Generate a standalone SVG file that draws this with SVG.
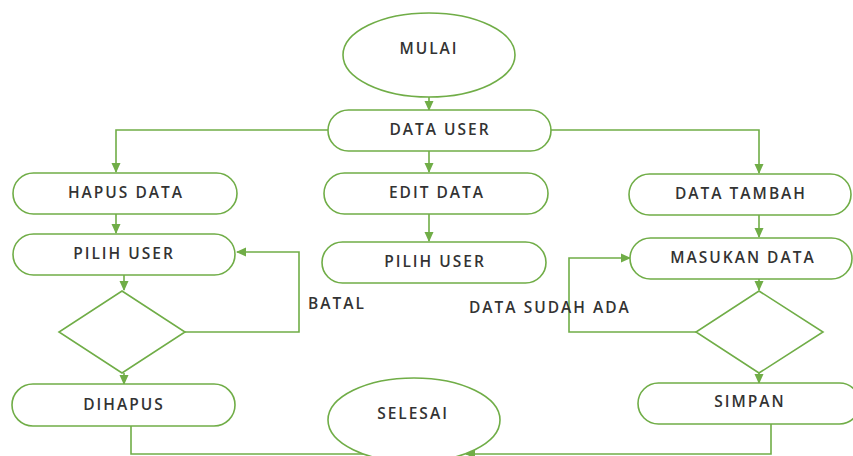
<svg xmlns="http://www.w3.org/2000/svg" width="853" height="456" viewBox="0 0 853 456">
<defs>
<marker id="ah" markerWidth="10" markerHeight="10" refX="9" refY="5" orient="auto" markerUnits="userSpaceOnUse">
<path d="M0,0.5 L10,5 L0,9.5 Z" fill="#70AD47"/>
</marker>
<style>
.s{fill:#fff;stroke:#70AD47;stroke-width:1.6}
.c{fill:none;stroke:#70AD47;stroke-width:1.6;marker-end:url(#ah)}
text{font-family:"Open Sans","Liberation Sans",sans-serif;font-size:15.5px;font-weight:600;letter-spacing:2px;fill:#333;dominant-baseline:central}
.m{text-anchor:middle}
</style>
</defs>
<rect width="853" height="456" fill="#fff"/>
<g id="connectors">
<path class="c" d="M429,97 V110"/>
<path class="c" d="M328,130 H116 V172"/>
<path class="c" d="M429,151 V172"/>
<path class="c" d="M551,130 H759 V173"/>
<path class="c" d="M116,214 V233"/>
<path class="c" d="M124,275 V290"/>
<path class="c" d="M185,332 H299 V252 H237"/>
<path class="c" d="M124,373 V384"/>
<path class="c" d="M131,426 V454 H378"/>
<path class="c" d="M429,214 V241"/>
<path class="c" d="M759,215 V237"/>
<path class="c" d="M759,279 V290"/>
<path class="c" d="M696,332 H569 V258 H630"/>
<path class="c" d="M759,373 V383"/>
<path class="c" d="M771,424 V454 H466"/>
</g>
<g id="mulai"><ellipse class="s" cx="429" cy="55" rx="86" ry="42"/><text class="m" x="429" y="48">MULAI</text></g>
<g id="data-user"><rect class="s" x="328" y="110" width="223" height="41" rx="20.5"/><text class="m" x="440" y="129">DATA USER</text></g>
<g id="hapus-data"><rect class="s" x="13" y="173" width="224" height="41" rx="20.5"/><text class="m" x="126" y="192">HAPUS DATA</text></g>
<g id="edit-data"><rect class="s" x="324" y="173" width="224" height="41" rx="20.5"/><text class="m" x="437" y="192">EDIT DATA</text></g>
<g id="data-tambah"><rect class="s" x="629" y="174" width="222" height="41" rx="20.5"/><text class="m" x="741" y="193">DATA TAMBAH</text></g>
<g id="pilih-user-1"><rect class="s" x="13" y="234" width="222" height="41" rx="20.5"/><text class="m" x="124" y="253">PILIH USER</text></g>
<g id="pilih-user-2"><rect class="s" x="322" y="242" width="224" height="41" rx="20.5"/><text class="m" x="435" y="261">PILIH USER</text></g>
<g id="masukan-data"><rect class="s" x="630" y="238" width="222" height="41" rx="20.5"/><text class="m" x="743" y="257">MASUKAN DATA</text></g>
<g id="decision-1"><path class="s" d="M122,291 L185,332 L122,373 L59,332 Z"/></g>
<g id="decision-2"><path class="s" d="M759,291 L823,332 L759,373 L696,332 Z"/></g>
<g id="batal-label"><text x="308" y="303">BATAL</text></g>
<g id="data-sudah-ada-label"><text x="469" y="307">DATA SUDAH ADA</text></g>
<g id="dihapus"><rect class="s" x="12" y="384" width="223" height="42" rx="21"/><text class="m" x="124" y="404">DIHAPUS</text></g>
<g id="simpan"><rect class="s" x="638" y="383" width="222" height="41" rx="20.5"/><text class="m" x="750" y="401">SIMPAN</text></g>
<g id="selesai"><ellipse class="s" cx="414" cy="420" rx="86" ry="42"/><text class="m" x="413" y="413">SELESAI</text></g>
</svg>
